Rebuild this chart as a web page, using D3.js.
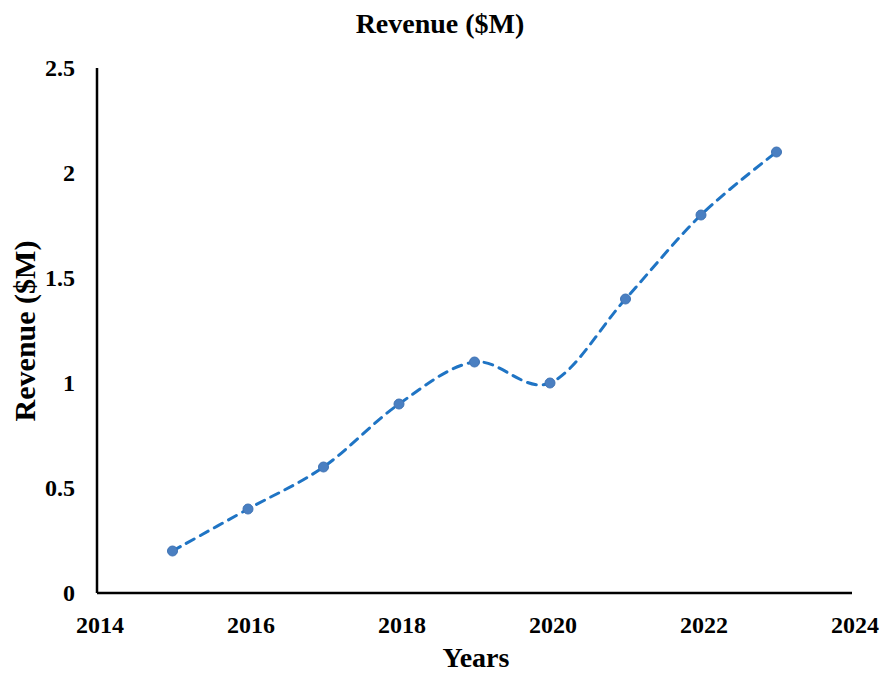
<!DOCTYPE html>
<html><head><meta charset="utf-8">
<script src="https://cdn.jsdelivr.net/npm/d3@7"></script>
<style>body{margin:0;background:#fff}svg{display:block}</style>
</head><body>
<script>
const years = [2015, 2016, 2017, 2018, 2019, 2020, 2021, 2022, 2023];
const revenue = [0.2, 0.4, 0.6, 0.9, 1.1, 1.0, 1.4, 1.8, 2.1];
const xTicks = [2014, 2016, 2018, 2020, 2022, 2024];
const yTicks = [0, 0.5, 1, 1.5, 2, 2.5];

const W = 888, H = 674;
const svg = d3.select("body").append("svg").attr("width", W).attr("height", H);
const font = "'Liberation Serif','Times New Roman',serif";
const x = d3.scaleLinear().domain([2014, 2024]).range([97, 852]);
const y = d3.scaleLinear().domain([0, 2.5]).range([593, 68]);

const data = years.map((d, i) => ({ x: d, y: revenue[i] }));

// axes lines
svg.append("line").attr("x1", x(2014)).attr("x2", x(2024)).attr("y1", y(0)).attr("y2", y(0))
  .attr("stroke", "#000").attr("stroke-width", 2.5);
svg.append("line").attr("x1", x(2014)).attr("x2", x(2014)).attr("y1", y(0)).attr("y2", y(2.5))
  .attr("stroke", "#000").attr("stroke-width", 2.5);

// tick labels
svg.selectAll(".xt").data(xTicks).enter().append("text")
  .attr("x", d => x(d) + 3).attr("y", y(0) + 40)
  .attr("text-anchor", "middle").attr("font-family", font).attr("font-weight", "bold")
  .attr("font-size", 24).text(d => d);
svg.selectAll(".yt").data(yTicks).enter().append("text")
  .attr("x", 75).attr("y", d => y(d) + 8)
  .attr("text-anchor", "end").attr("font-family", font).attr("font-weight", "bold")
  .attr("font-size", 24).text(d => d);

// line
const line = d3.line().x(d => x(d.x)).y(d => y(d.y)).curve(d3.curveCardinal);
svg.append("path").datum(data).attr("d", line).attr("fill", "none")
  .attr("stroke", "#1f74c4").attr("stroke-width", 3).attr("stroke-dasharray", "9,7")
  .attr("stroke-linecap", "round");

svg.selectAll(".pt").data(data).enter().append("circle")
  .attr("cx", d => x(d.x)).attr("cy", d => y(d.y)).attr("r", 5)
  .attr("fill", "#4a7fc1").attr("stroke", "#3f73b5").attr("stroke-width", 1);

// titles
svg.append("text").attr("x", 440).attr("y", 33).attr("text-anchor", "middle")
  .attr("font-family", font).attr("font-weight", "bold").attr("font-size", 28).text("Revenue ($M)");
svg.append("text").attr("x", 476).attr("y", 667).attr("text-anchor", "middle")
  .attr("font-family", font).attr("font-weight", "bold").attr("font-size", 28).text("Years");
svg.append("text").attr("transform", "translate(35,331) rotate(-90)").attr("text-anchor", "middle")
  .attr("font-family", font).attr("font-weight", "bold").attr("font-size", 30).text("Revenue ($M)");
</script>
</body></html>
